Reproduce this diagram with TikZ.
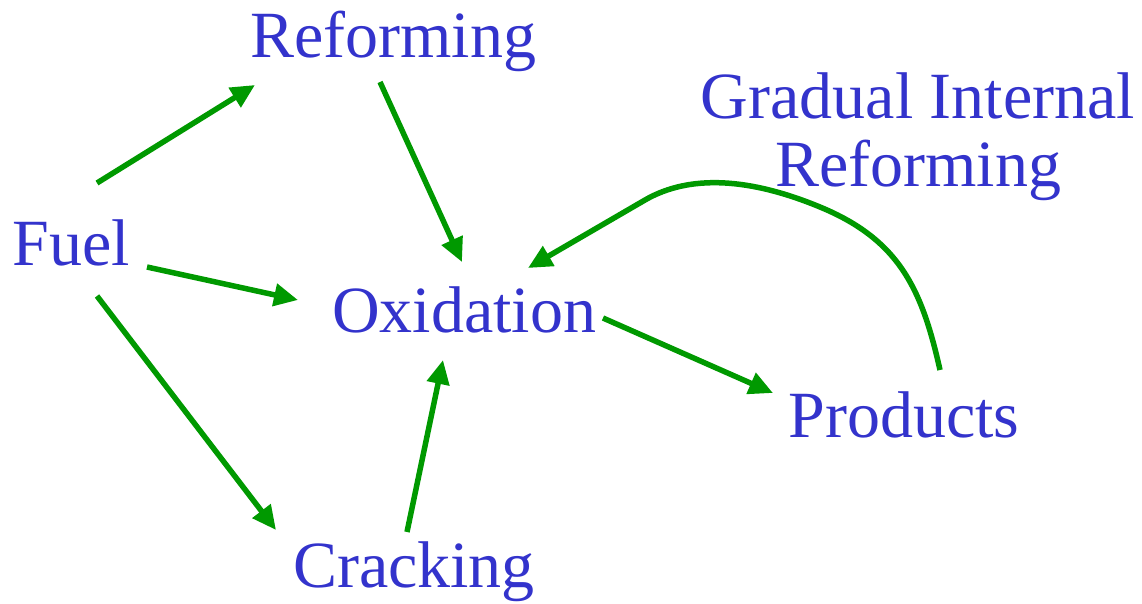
\documentclass[tikz,border=0pt]{standalone}
\usepackage{fontspec}
\setmainfont{Liberation Serif}
\usetikzlibrary{arrows.meta}
\definecolor{txtblue}{HTML}{3333CC}
\definecolor{arrgreen}{HTML}{009900}
\begin{document}
\begin{tikzpicture}[x=1pt, y=-1pt]
\tikzstyle{every node}=[inner sep=0, anchor=base, text=txtblue, font=\fontsize{66}{68}\selectfont];
\tikzstyle{flow}=[draw=arrgreen, line width=5.5pt, -{Triangle[length=24pt, width=22pt]}];
\useasboundingbox (0, 0) rectangle (1142, 603);
\node (fuel) at (71, 265) {Fuel};
\node (refo) at (393, 57) {Reforming};
\node (oxid) at (464, 332) {Oxidation};
\node (prod) at (904, 437) {Products};
\node (crack) at (414, 587) {Cracking};
\node [align=center] (gir) at (918, 186) {Gradual Internal\\Reforming};
\draw [flow] ([shift={(26,-82)}]fuel.base) -- ([shift={(-138,28)}]refo.base);
\draw [flow] ([shift={(-13,25)}]refo.base) -- ([shift={(-2,-70)}]oxid.base);
\draw [flow] ([shift={(76,2)}]fuel.base) -- ([shift={(-166,-32)}]oxid.base);
\draw [flow] ([shift={(26,31)}]fuel.base) -- ([shift={(-138,-57)}]crack.base);
\draw [flow] ([shift={(-7,-55)}]crack.base) -- ([shift={(-21,28)}]oxid.base);
\draw [flow] ([shift={(139,-14)}]oxid.base) -- ([shift={(-131,-44)}]prod.base);
%\draw [flow] (prod) to [bend right] (oxid);
\draw [flow] ([shift={(36,-67)}]prod.base) .. controls (922, 290) and (900, 240) .. (820, 207)
  .. controls (750, 178) and (690, 174) .. (645, 200) -- ([shift={(64,-64)}]oxid.base);
\end{tikzpicture}
\end{document}
